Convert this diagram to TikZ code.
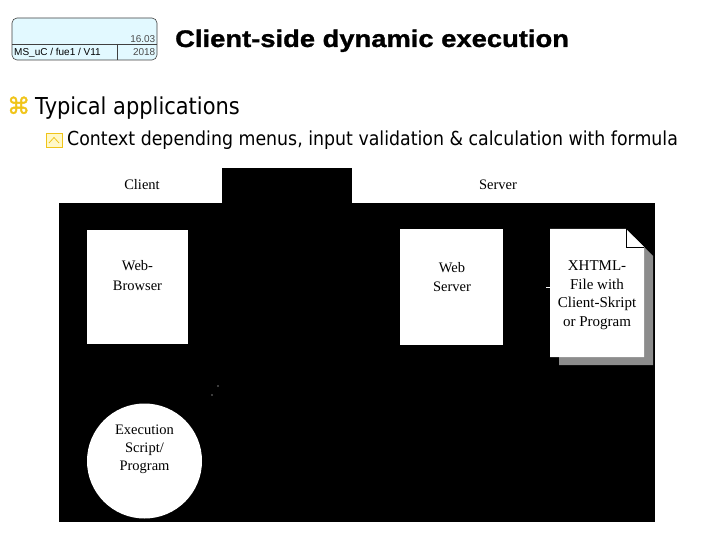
\documentclass[tikz,border=0pt]{standalone}
\usepackage{fontspec}
\setmainfont{Liberation Serif}
\newfontfamily\hdrfont{Liberation Sans}
\newfontfamily\titlefont[FakeStretch=1.14,FakeBold=1.2]{Liberation Sans Bold}
\newfontfamily\bulfont[FakeStretch=0.9]{DejaVu Sans}
\newfontfamily\symfont[FakeBold=1.5]{DejaVu Sans}
\definecolor{hdrfill}{HTML}{E2F9FF}
\definecolor{bulyel}{HTML}{F0C419}
\definecolor{bulfill}{HTML}{FFF8C8}
\definecolor{shadowgray}{HTML}{8C8C8C}
\tikzset{
  wbox/.style={fill=white,draw=none},
  dtext/.style={font=\fontsize{14.5}{19}\selectfont,align=center,inner sep=0pt},
  hdrtext/.style={inner sep=0pt,font=\hdrfont\fontsize{10}{12}\selectfont},
}
\begin{document}
\begin{tikzpicture}[x=1pt,y=-1pt]
\useasboundingbox (0,0) rectangle (720,540);
% header box
\draw[draw=black!75,fill=hdrfill,rounded corners=5pt,line width=0.6pt] (12,18) rectangle (157,60);
\draw[black!75,line width=0.6pt] (12,44) -- (157,44);
\draw[black!75,line width=0.6pt] (117,44) -- (117,60);
\node[hdrtext,anchor=west] (hdrid) at (14,52.5) {MS\_uC / fue1 / V11};
\node[hdrtext,anchor=east,text=black!70] (hdrdate) at (155.5,39.5) {16.03};
\node[hdrtext,anchor=east,text=black!70] (hdryear) at (155.5,52) {2018};
% title
\node[anchor=base west,inner sep=0pt,font=\titlefont\fontsize{24}{28}\selectfont] (title) at (175,47) {Client-side dynamic execution};
% bullets
\node[anchor=base west,inner sep=0pt,font=\symfont\fontsize{23}{26}\selectfont,text=bulyel] (sym1) at (7,114) {⌘};
\node[anchor=base west,inner sep=0pt,font=\bulfont\fontsize{23.3}{26}\selectfont] (bul1) at (35,115) {Typical applications};
\draw[bulyel,fill=bulfill,line width=0.8pt] (46,133) rectangle (62,147);
\draw[bulyel,line width=0.8pt] (49,143) -- (54,137.5) -- (59,143);
\node[anchor=base west,inner sep=0pt,font=\bulfont\fontsize{19.3}{22}\selectfont] (bul2) at (67,146) {Context depending menus, input validation \& calculation with formula};
% diagram background
\fill[black] (59,168) rectangle (655,522);
\fill[wbox] (59,168) rectangle (222,203);
\fill[wbox] (352,168) rectangle (655,203);
\node[dtext] (client) at (142,185) {Client};
\node[dtext] (server) at (498,185) {Server};
% web browser
\fill[wbox] (87,230) rectangle (188,344);
\node[dtext,font=\fontsize{14.5}{20}\selectfont] (browser) at (137.5,276) {Web-\\Browser};
% web server
\fill[wbox] (400,229) rectangle (503,345);
\node[dtext,font=\fontsize{14.5}{19}\selectfont] (webserver) at (452,277) {Web\\Server};
% document with shadow
\fill[shadowgray] (559,237) -- (634,237) -- (653,256) -- (653,365) -- (559,365) -- cycle;
\fill[white] (550,229) -- (626,229) -- (644,247) -- (644,357) -- (550,357) -- cycle;
\draw[black,line width=0.6pt] (626,229) -- (626,247) -- (644,247);
\node[dtext,font=\fontsize{15}{18.5}\selectfont] (xhtml) at (597,295) {XHTML-\\File with\\Client-Skript\\or Program};
\coordinate (tickend) at (550,287);
\draw[white,line width=0.6pt] (546,287) -- (tickend);
% execution circle
\fill[white] (144.5,461) circle (57.5);
\node[dtext,font=\fontsize{14.5}{18}\selectfont] (exec) at (144.5,449) {Execution\\Script/\\Program};
\fill[white] (218,386) circle (0.7);
\fill[white] (212,395) circle (0.7);
\end{tikzpicture}
\end{document}
